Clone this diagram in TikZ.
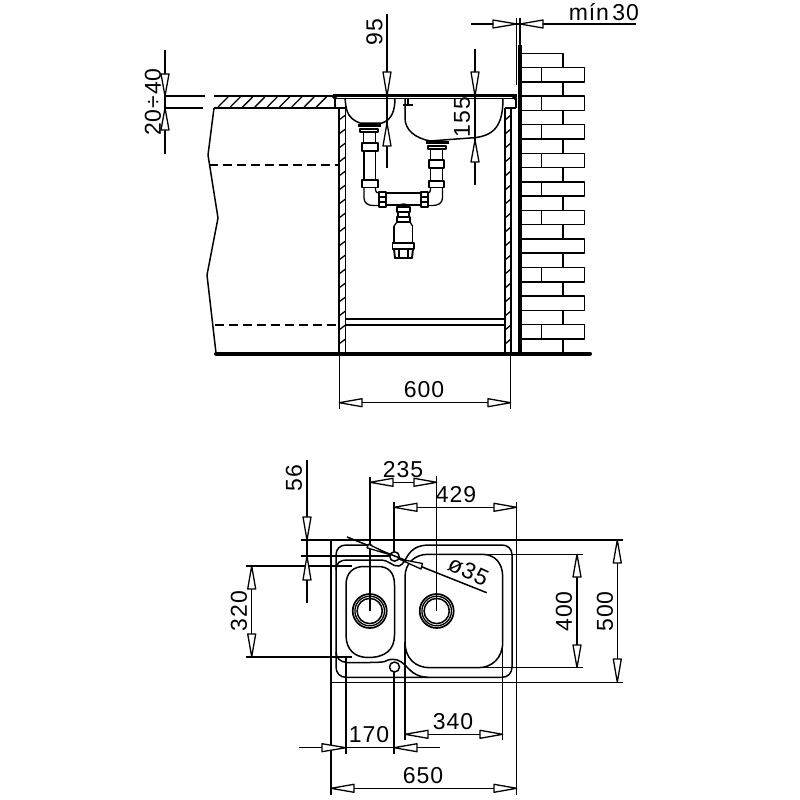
\documentclass[tikz,border=0pt]{standalone}
\usepackage{fontspec}
\setmainfont[LetterSpace=4]{Liberation Sans}
\tikzset{
  ln/.style={line width=1.5pt,line join=round},
  thin line/.style={line width=1.3pt},
  thick part/.style={line width=2.4pt},
  nut/.style={line width=1.9pt},
  dimtext/.style={font=\fontsize{23}{25}\selectfont,inner sep=0pt}
}
% hollow dimension arrows: tip and base along one axis
\newcommand{\arrV}[3]{\draw[line width=1.3pt,line join=round,fill=white] (#1,#2) -- (#1-4,#3) -- (#1+4,#3) -- cycle;}
\newcommand{\arrH}[3]{\draw[line width=1.3pt,line join=round,fill=white] (#2,#1) -- (#3,#1-4) -- (#3,#1+4) -- cycle;}
\begin{document}
\begin{tikzpicture}[x=1pt,y=-1pt,ln]
\useasboundingbox (0,0) rectangle (800,800);
\fill[white] (0,0) rectangle (800,800);

% ---------- section view: cabinet ----------
\draw (214,108) -- (208,155) -- (218,218) -- (207,275) -- (216,353);
\draw[dash pattern=on 9pt off 5pt] (209,165) -- (339,165);
\draw[dash pattern=on 9pt off 5pt] (215,325) -- (339,325);
% worktop
\draw[thick part] (214,96) -- (335,96);
\draw[thick part] (214,108) -- (335,108);
\foreach \x in {218,230.3,...,325} \draw[thin line] (\x,107) -- (\x+10,97);
\draw (335,96) -- (335,108);
% side panels
\draw[thick part] (339,108) -- (339,353);
\draw (345.5,108) -- (345.5,353);
\draw (505,108) -- (505,353);
\draw[thick part] (511,108) -- (511,353);
\foreach \y in {115,129,...,345} {
  \draw[thin line] (339,\y+5) -- (345.5,\y);
  \draw[thin line] (505,\y+5) -- (511,\y);
}
% tops of panels
\draw (335,108) -- (346,108) (505,108) -- (516,108);
\draw (516,98) -- (516,108);
% plinth
\draw (345.5,319) -- (505,319);
\draw[thick part] (345.5,325) -- (505,325);
% floor and wall
\draw[line width=4pt,line cap=round] (216,353.5) -- (590,353.5);
\draw[line width=4pt] (520,45) -- (520,353);
% bricks
\foreach \k in {0,2,...,20} {
  \pgfmathsetmacro{\ya}{53.3+14.28*\k}
  \pgfmathsetmacro{\yb}{\ya+14.28}
  \draw (522,\ya) -- (563,\ya) -- (563,\yb) -- (522,\yb);
}
\foreach \k in {1,3,...,19} {
  \pgfmathsetmacro{\ya}{53.3+14.28*\k}
  \pgfmathsetmacro{\yb}{\ya+14.28}
  \draw (522,\ya) -- (584.5,\ya) -- (584.5,\yb) -- (522,\yb);
}
\foreach \k in {1,3,5,7,9,11,15,19} {
  \pgfmathsetmacro{\ya}{53.3+14.28*\k}
  \draw (541.7,\ya) -- (541.7,\ya+14.28);
}

% ---------- section view: sink ----------
\draw[thick part] (333,95.5) -- (517,95.5);
\draw[thin line] (335,98.5) -- (516,98.5);
\draw[line width=3pt] (333,96) -- (336,99);
\draw[line width=3pt] (513,96) -- (516,99);
% left bowl
\draw (345,98) .. controls (346,108) and (346,118) .. (360,123) -- (382,123)
  .. controls (392,120) and (395,110) .. (395,98);
% right bowl
\draw (405,98) -- (405,118) .. controls (405,130) and (415,138) .. (430,141)
  -- (470,138) .. controls (495,137) and (503,125) .. (503,98);
\draw (408,98) -- (408,105) (403,105) -- (413,105);
% left waste
\draw[line width=3pt] (358,125.5) -- (381,125.5);
\draw[thin line] (360,129) rectangle (378,132);
\draw[thin line] (363.5,132) -- (363.5,143) (375.5,132) -- (375.5,143);
\draw[nut] (362,143) rectangle (378,151);
\draw[thin line] (364,151) -- (364,180) (375.5,151) -- (375.5,180);
\draw[nut] (362,180) rectangle (378,187.5);
\draw[thin line] (364,187.5) -- (364,198) .. controls (364,203) and (368,205.5) .. (373,205.5) -- (379,205.5);
\draw[thin line] (375.5,187.5) -- (375.5,190) .. controls (375.5,192) and (377,193) .. (379,193);
% right waste
\draw[line width=3pt] (426,142.5) -- (449,142.5);
\draw[thin line] (428,146) rectangle (446,149);
\draw[thin line] (430.5,149) -- (430.5,160) (442.5,149) -- (442.5,160);
\draw[nut] (429,160) rectangle (444,168);
\draw[thin line] (430.5,168) -- (430.5,181) (442.5,168) -- (442.5,181);
\draw[nut] (429,181) rectangle (444,187.5);
\draw[thin line] (442.5,187.5) -- (442.5,198) .. controls (442.5,203) and (438,205.5) .. (433,205.5) -- (428,205.5);
\draw[thin line] (430.5,187.5) -- (430.5,190) .. controls (430.5,192) and (429,193) .. (428,193);
% cross pipe
\draw[nut] (379,192) rectangle (386,207);
\draw[nut] (421,192) rectangle (428,207);
\draw[thin line] (379,197) -- (386,197) (379,202) -- (386,202) (421,197) -- (428,197) (421,202) -- (428,202);
\draw[thin line] (386,193) -- (421,193);
\draw (386,205) -- (421,205);
% trap
\draw[thin line] (398,207) .. controls (398,203) and (409,203) .. (409,207);
\draw[nut] (397,207) rectangle (410,212);
\draw[thin line] (398,212) rectangle (409,217);
\draw[nut] (397,217) rectangle (410,222);
\draw[thin line] (394,226) -- (394,243) (412.5,226) -- (412.5,243);
\draw[thin line] (394,226) -- (397,222) (412.5,226) -- (410,222);
\draw[nut] (392.5,243) rectangle (414,249);
\draw[nut] (394,249) -- (395,258) -- (412,258) -- (413,249);
\draw[thin line] (399,249) -- (399,258) (408,249) -- (408,258);

% ---------- section view: dimensions ----------
\draw (165,50) -- (165,154);
\draw (165,96) -- (205,96) (165,108) -- (203,108);
\arrV{165}{96}{74}
\arrV{165}{108}{130}
\node[dimtext,rotate=90] (d2040) at (153,102) {20÷40};

\draw (387,14) -- (387,168);
\arrV{387}{96}{72}
\arrV{387}{123}{146}
\node[dimtext,rotate=90] (d95) at (374.5,32) {95};

\draw (475,49) -- (475,185);
\arrV{475}{96}{72}
\arrV{475}{140}{162}
\node[dimtext,rotate=90] (d155) at (462,117) {155};

\draw (516.7,18) -- (516.7,85) (520,18) -- (520,45);
\draw (471,24) -- (636,24);
\arrH{24}{516.7}{493}
\arrH{24}{520}{543}
\node[dimtext,anchor=base west] (dmin) at (568,21) {mín\hspace{0.15em}30};

\draw (339.3,353) -- (339.3,409) (510.7,353) -- (510.7,409);
\draw (339.3,402.7) -- (510.7,402.7);
\arrH{402.7}{339.3}{362}
\arrH{402.7}{510.7}{488}
\node[dimtext] (d600) at (424,390) {600};

% ---------- plan view ----------
% outer edge and its extension lines
\draw (300.7,540) -- (623,540);
\draw (331,540) -- (331,795);
\draw (516.7,502) -- (516.7,795);
\draw (331,682.3) -- (623,682.3);
% rim, upper left
\draw (372,545) -- (346,545) .. controls (340,545) and (336,549) .. (336,555) -- (336,667)
  .. controls (336,673) and (340,677.3) .. (346,677.3) -- (428,677.3);
% rim, divider and right side
\draw (336,570) .. controls (336,563) and (340,560) .. (347,560) -- (380,560)
  .. controls (390,560) and (392,567) .. (399,566) .. controls (408,563) and (405,546) .. (428,545)
  -- (502,545) .. controls (508,545) and (512,549) .. (512,555) -- (512,667)
  .. controls (512,673) and (508,677.3) .. (502,677.3) -- (428,677.3)
  .. controls (415,677) and (410,670) .. (405,665)
  .. controls (400,660) and (394,658) .. (388,660) .. controls (384,663) and (378,662) .. (370,662.5)
  -- (347,662.5) .. controls (340,662) and (336,658) .. (336,652);
% left bowl
\draw (346,585) .. controls (346,572) and (354,566.5) .. (364,566.5) -- (378,566.5)
  .. controls (388,566.5) and (394.5,572) .. (394.5,585) -- (394.5,635)
  .. controls (394.5,650) and (385,657.5) .. (368,657.5)
  .. controls (355,657.5) and (346,650) .. (346,635) -- cycle;
% right bowl
\draw (405,577) .. controls (405,563) and (415,554.3) .. (428,554.3) -- (482,554.3)
  .. controls (495,554.3) and (502.7,563) .. (502.7,577) -- (502.7,642)
  .. controls (502.7,658) and (492,667.7) .. (478,667.7) -- (430,667.7)
  .. controls (415,667.7) and (405,658) .. (405,642) -- cycle;
% drains
\foreach \cx in {369.7,436.7} {
  \draw[line width=1.7pt] (\cx,611) circle[radius=17];
  \draw[thin line] (\cx,611) circle[radius=14.8];
  \draw[line width=1.5pt] (\cx,611) circle[radius=12.6];
}
% tap holes
\draw (394.5,556.5) circle[radius=4.7];
\draw (394.5,667) circle[radius=5];

% ---------- plan view: dimensions ----------
\draw (300.7,556) -- (390,556);
\draw (428,554.3) -- (583,554.3);
\draw (430,667.7) -- (583,667.7);
\draw[line width=1.7pt] (246,566) -- (352,566);
\draw[line width=1.7pt] (246,656.8) -- (352,656.8);
\draw (307,460) -- (307,603);
\arrV{307}{540}{517}
\arrV{307}{556}{580}
\node[dimtext,rotate=90] (d56) at (294,478) {56};

\draw (370,477) -- (370,611);
\draw (436.7,476) -- (436.7,611);
\draw (370,482.3) -- (436.7,482.3);
\arrH{482.3}{370}{393}
\arrH{482.3}{436.7}{414}
\node[dimtext] (d235) at (403,470) {235};

\draw (394,502) -- (394,552) (394,672) -- (394,754);
\draw (394,507.3) -- (516.7,507.3);
\arrH{507.3}{394}{417}
\arrH{507.3}{516.7}{494}
\node[dimtext] (d429) at (456,495) {429};

\draw (251.7,566) -- (251.7,656.8);
\arrV{251.7}{566}{589}
\arrV{251.7}{656.8}{634}
\node[dimtext,rotate=90] (d320) at (239,611) {320};

\draw (577,554.3) -- (577,667.7);
\arrV{577}{554.3}{577}
\arrV{577}{667.7}{645}
\node[dimtext,rotate=90] (d400) at (564,611.5) {400};

\draw (617.3,540) -- (617.3,682.3);
\arrV{617.3}{540}{563}
\arrV{617.3}{682.3}{659}
\node[dimtext,rotate=90] (d500) at (605,611.5) {500};

\draw (346,657) -- (346,754);
\draw (299,747.7) -- (440,747.7);
\arrH{747.7}{346}{322}
\arrH{747.7}{394}{417}
\node[dimtext] (d170) at (369,735) {170};

\draw (405,642) -- (405,740) (502.7,642) -- (502.7,740);
\draw (405,734.3) -- (502.7,734.3);
\arrH{734.3}{405}{428}
\arrH{734.3}{502.7}{480}
\node[dimtext] (d340) at (453,721.7) {340};

\draw (331,788.3) -- (516.7,788.3);
\arrH{788.3}{331}{354}
\arrH{788.3}{516.7}{494}
\node[dimtext] (d650) at (423,776) {650};

% diameter leader
\draw (347,537) -- (486.7,592.7);
\draw[line width=1.3pt,line join=round,fill=white] (390,554.7) -- (367,547.8) -- (368.5,544.2) -- cycle;
\draw[line width=1.3pt,line join=round,fill=white] (399,559) -- (421,569) -- (422.5,563.5) -- cycle;
\node[dimtext,rotate=-25] (dphi) at (468.5,571) {ø35};
\end{tikzpicture}
\end{document}
